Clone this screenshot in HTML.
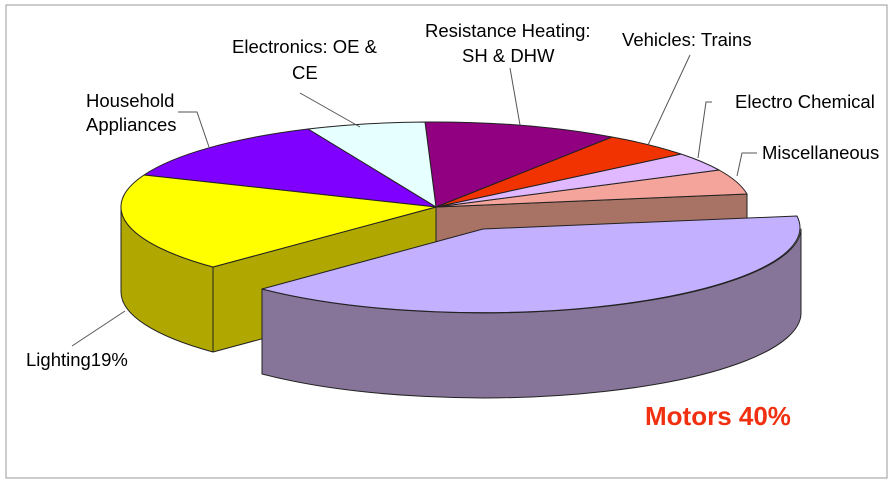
<!DOCTYPE html>
<html><head><style>
body{margin:0;background:#fff;}
svg{display:block;}
text{font-family:"Liberation Sans",sans-serif;font-size:18.5px;fill:#000;}
</style></head><body>
<svg width="896" height="487" viewBox="0 0 896 487" xmlns="http://www.w3.org/2000/svg">
<rect x="6" y="5" width="881" height="473" fill="#fff" stroke="#999" stroke-width="1"/>
<g stroke="#222" stroke-width="1" stroke-linejoin="round">
<path d="M436,207 L747,194 L747,279 L436,292 Z" fill="#A87264"/>
<path d="M213,267 L436,207 L436,292 L213,352 Z" fill="#B0A800"/>
<path d="M121,207 A315 85 0 0 0 213,267 L213,352 A315 85 0 0 1 121,292 Z" fill="#B0A800"/>
<path d="M436,207 L747,194 A315 85 0 0 0 719,170 Z" fill="#F4A49A"/>
<path d="M436,207 L719,170 A315 85 0 0 0 681,154 Z" fill="#E0B8FF"/>
<path d="M436,207 L681,154 A315 85 0 0 0 612,137 Z" fill="#F03300"/>
<path d="M436,207 L612,137 A315 85 0 0 0 425,122 Z" fill="#900080"/>
<path d="M436,207 L425,122 A315 85 0 0 0 308,129 Z" fill="#E6FFFF"/>
<path d="M436,207 L308,129 A315 85 0 0 0 144,175 Z" fill="#7F00FF"/>
<path d="M436,207 L144,175 A315 85 0 0 0 213,267 Z" fill="#FFFF00"/>
<path d="M801,229 A318 85 0 0 1 262,289 L262,374 A318 85 0 0 0 801,314 Z" fill="#877599"/>
<path d="M483,229 L797,216 A318 85 0 0 1 262,289 Z" fill="#C3B0FF"/>
</g>
<g stroke="#555" stroke-width="1" fill="none">
<polyline points="300,93 360,127"/>
<polyline points="178,112 197,112 209,147"/>
<polyline points="510,68 520,125"/>
<polyline points="690,55 648,145"/>
<polyline points="712,102 706,102 698,158"/>
<polyline points="757,153 742,153 737,176"/>
<polyline points="72,346 125,311"/>
</g>
<text x="232" y="53">Electronics: OE &amp;</text>
<text x="292" y="79">CE</text>
<text x="425" y="37">Resistance Heating:</text>
<text x="462" y="62">SH &amp; DHW</text>
<text x="622" y="46">Vehicles: Trains</text>
<text x="735" y="108">Electro Chemical</text>
<text x="762" y="159">Miscellaneous</text>
<text x="86" y="107">Household</text>
<text x="86" y="131">Appliances</text>
<text x="26" y="366">Lighting19%</text>
<text x="645" y="425" style="font-size:26px;font-weight:bold;fill:#F03010">Motors 40%</text>
</svg>
</body></html>
